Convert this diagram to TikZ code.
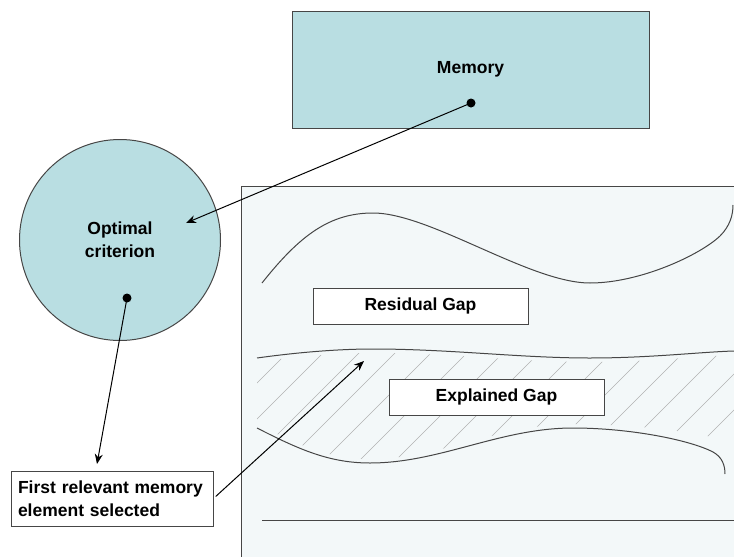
\documentclass[tikz,border=0pt]{standalone}
\usepackage{fontspec}
\setmainfont{Liberation Sans}
\usepackage{tikz}
\usetikzlibrary{arrows.meta,positioning}
\definecolor{blobfill}{RGB}{185,222,226}
\definecolor{panelfill}{RGB}{243,248,249}
\definecolor{edgegray}{RGB}{70,70,70}

\begin{document}
\begin{tikzpicture}[x=1pt,y=-1pt]
      \tikzstyle{blob}=[draw=edgegray,fill=blobfill,line width=1pt,inner sep=0pt]
      \tikzstyle{gapbox}=[draw=edgegray,fill=white,line width=1pt,minimum width=215pt,minimum height=36pt,inner sep=0pt]
      \tikzstyle{txt}=[font=\fontsize{17.5}{23}\selectfont\bfseries]
      \tikzstyle{conn}=[line width=1pt,-{Stealth[length=10pt,width=8pt]}]
      \tikzstyle{wave}=[draw=edgegray,line width=1pt]
      \useasboundingbox (0,0) rectangle (734,557);
      % gap panel
      \fill[panelfill] (241,186) rectangle (734,557);
      \draw[edgegray,line width=1pt] (734,186) -- (241,186) -- (241,557);
      % hatched band
      \begin{scope}
        \clip (257,362) .. controls (300,356) and (340,353) .. (373,353)
              .. controls (450,353) and (520,362) .. (590,362)
              .. controls (650,362) and (700,356) .. (734,355)
              -- (734,440) -- (722,440)
              .. controls (700,432) and (630,424) .. (573,424)
              .. controls (500,424) and (440,459) .. (370,459)
              .. controls (330,459) and (300,446) .. (257,424) -- cycle;
        \foreach \c in {604,640,...,1204}
          \draw[gray!60,line width=0.6pt] (\c-480,480) -- (\c-330,330);
      \end{scope}
      \draw[wave] (262,283) .. controls (300,235) and (330,213) .. (373,213)
                  .. controls (430,213) and (530,283) .. (590,283)
                  .. controls (640,283) and (700,255) .. (720,236)
                  .. controls (730,226) and (733,215) .. (733,205);
      \draw[wave] (257,358) .. controls (300,352) and (340,349) .. (373,349)
                  .. controls (450,349) and (520,358) .. (590,358)
                  .. controls (650,358) and (700,352) .. (734,351);
      \draw[wave] (257,428) .. controls (300,450) and (330,463) .. (370,463)
                  .. controls (440,463) and (500,428) .. (573,428)
                  .. controls (630,428) and (690,440) .. (713,452)
                  .. controls (722,457) and (725,465) .. (725,474);
      \draw[wave] (262,520) -- (734,520);
      % boxes
      \node[gapbox,txt] (resid) at (420.5,306) {Residual Gap};
      \node[gapbox,txt] (expl) at (496.5,397) {Explained Gap};
      \node[blob,minimum width=357pt,minimum height=117pt,txt] (mem) at (470.5,69.5) {Memory};
      \node[blob,circle,minimum size=201pt,txt,align=center] (crit) at (120,240) {Optimal\\criterion};
      \node[draw=edgegray,fill=white,line width=1pt,minimum width=202pt,minimum height=55pt,
            inner sep=0pt,txt,align=left,text width=188pt] (sel) at (112,498.5) {First relevant memory\\element selected};
      % links
      \coordinate (memdot) at (471,103);
      \coordinate (critdot) at (127,298);
      \coordinate (crittip) at (186,223);
      \coordinate (seltip) at (97,464);
      \coordinate (gaptip) at (364,361);
      \fill (memdot) circle (4.5pt);
      \fill (critdot) circle (4.5pt);
      \draw[conn] (memdot) -- (crittip);
      \draw[conn] (critdot) -- (seltip);
      \draw[conn,shorten <=3pt] (sel.east) -- (gaptip);
    \end{tikzpicture}
\end{document}
